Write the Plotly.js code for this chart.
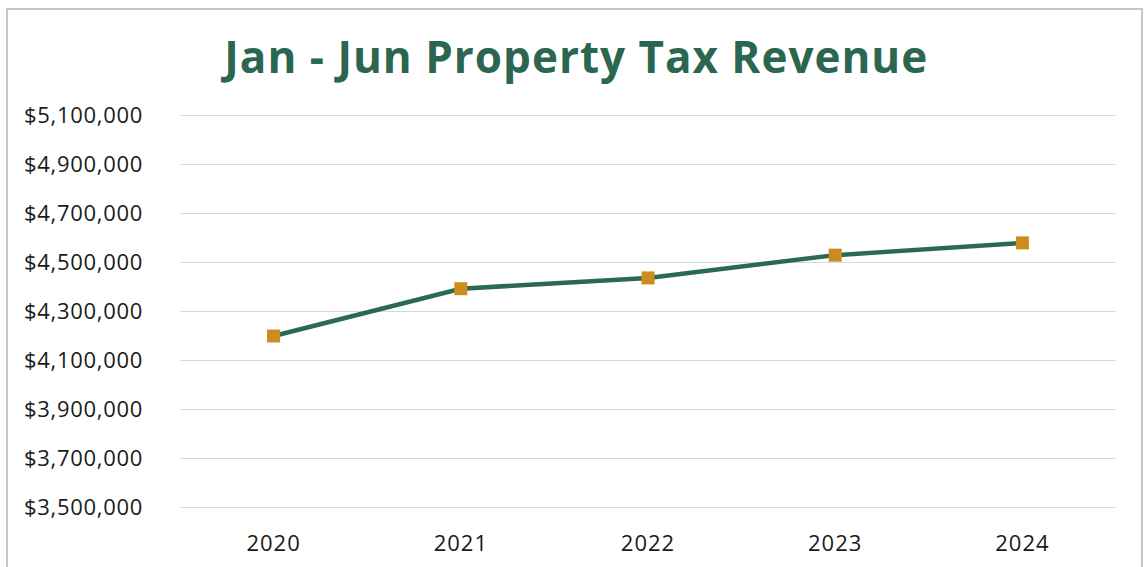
<!DOCTYPE html>
<html>
<head>
<meta charset="utf-8">
<script src="https://cdn.plot.ly/plotly-3.0.1.min.js"></script>
<style>
  html, body { margin: 0; padding: 0; background: #ffffff; overflow: hidden; }
  #frame { position: absolute; left: 6px; top: 8px; width: 1137px; height: 600px; border: 2px solid #c6c6c6; box-sizing: border-box; }
  #chart { position: absolute; left: 0; top: 0; width: 1148px; height: 567px; }
  #chart .gtitle { letter-spacing: 1px; }
  #chart .xtick text { letter-spacing: 1px; }
  #chart .ytick text { letter-spacing: 0.7px; }
</style>
</head>
<body>
<div id="frame"></div>
<div id="chart"></div>
<script>
const years = ['2020', '2021', '2022', '2023', '2024'];
const revenue = [4200000, 4393000, 4437000, 4530000, 4580000];
const yTickVals = [3500000, 3700000, 3900000, 4100000, 4300000, 4500000, 4700000, 4900000, 5100000];
const yTickText = ['$3,500,000', '$3,700,000', '$3,900,000', '$4,100,000', '$4,300,000', '$4,500,000', '$4,700,000', '$4,900,000', '$5,100,000'];
const chartTitle = 'Jan - Jun Property Tax Revenue';

const trace = {
  type: 'scatter',
  mode: 'lines+markers',
  x: years,
  y: revenue,
  line: { color: '#2a6a4f', width: 4.5 },
  marker: { symbol: 'square', size: 13, color: '#cc8d1e', line: { width: 0 } },
  hoverinfo: 'x+y'
};

const layout = {
  width: 1148,
  height: 567,
  paper_bgcolor: 'rgba(0,0,0,0)',
  plot_bgcolor: 'rgba(0,0,0,0)',
  margin: { l: 180, r: 32, t: 113, b: 57 },
  showlegend: false,
  font: { family: '"Open Sans", "Noto Sans", sans-serif', color: '#1a1a1a' },
  title: {
    text: chartTitle,
    font: { family: '"Open Sans", sans-serif', size: 44, color: '#2b6650', weight: 700 },
    x: 0.502, xanchor: 'center',
    y: 0.898, yanchor: 'middle'
  },
  xaxis: {
    type: 'category',
    range: [-0.5, 4.5],
    showgrid: false,
    zeroline: false,
    showline: false,
    ticks: '',
    tickfont: { size: 22, color: '#1a1a1a' },
    ticklabelstandoff: 18
  },
  yaxis: {
    range: [3490000, 5110000],
    tickvals: yTickVals,
    ticktext: yTickText,
    showgrid: true,
    gridcolor: '#d9d9d9',
    gridwidth: 1.5,
    zeroline: false,
    showline: false,
    ticks: '',
    tickfont: { size: 22, color: '#1a1a1a' },
    ticklabelstandoff: 36
  }
};

Plotly.newPlot('chart', [trace], layout, { displayModeBar: false, staticPlot: true });
</script>
</body>
</html>
